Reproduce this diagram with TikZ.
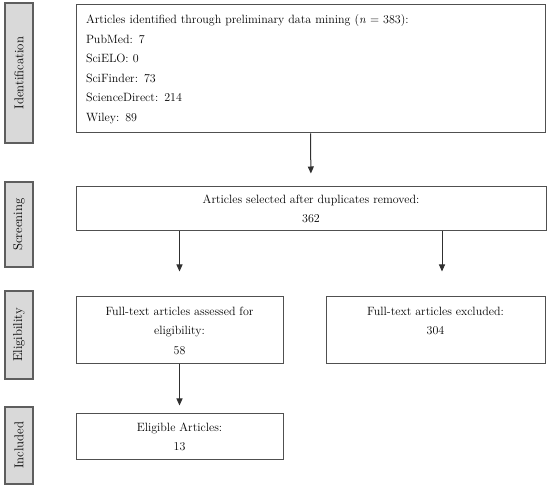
\documentclass[tikz,border=0pt]{standalone}
\usetikzlibrary{arrows.meta}
\definecolor{lblfill}{HTML}{D9D9D9}
\definecolor{lbldraw}{HTML}{5E5E5E}
\definecolor{boxdraw}{HTML}{505050}
\definecolor{arrdraw}{HTML}{303030}
\tikzset{
  txt/.style={font=\fontsize{12}{19.5}\selectfont},
  stagebox/.style={draw=lbldraw, fill=lblfill, line width=1.3pt, minimum width=28pt, inner sep=0pt, font=\fontsize{12.8}{15}\selectfont},
  flowbox/.style={draw=boxdraw, line width=1pt, inner sep=0pt, align=center, txt},
  arr/.style={draw=arrdraw, line width=1pt, -{Triangle[length=7pt,width=6pt]}}
}
\begin{document}
\begin{tikzpicture}[x=1pt,y=-1pt]
\useasboundingbox (0,0) rectangle (550,489);
% stage labels
\node[stagebox, minimum height=140pt] (l1) at (19,73) {\rotatebox{90}{Identification}};
\node[stagebox, minimum height=85pt] (l2) at (19,224.5) {\rotatebox{90}{Screening}};
\node[stagebox, minimum height=88pt] (l3) at (19,335) {\rotatebox{90}{Eligibility}};
\node[stagebox, minimum height=77pt] (l4) at (19,445.5) {\rotatebox{90}{Included}};
% flow boxes
\node[flowbox, align=left, text width=449pt, inner xsep=10pt, minimum height=128pt] (b1) at (310.5,69)
  {Articles identified through preliminary data mining (\textit{n} = 383):\\
   PubMed: 7\\ SciELO: 0\\ SciFinder: 73\\ ScienceDirect: 214\\ Wiley: 89};
\node[flowbox, minimum width=470pt, minimum height=44pt] (b2) at (311,209)
  {Articles selected after duplicates removed:\\362};
\node[flowbox, minimum width=207pt, minimum height=67pt] (b3) at (179.5,330.5)
  {Full-text articles assessed for\\eligibility:\\58};
\node[flowbox, minimum width=219pt, minimum height=67pt] (b4) at (435.5,330.5)
  {Full-text articles excluded:\\304\\\mbox{}};
\node[flowbox, minimum width=207pt, minimum height=46pt] (b5) at (179.5,437)
  {Eligible Articles:\\13};
% connectors
\coordinate (c4) at (442,0);
\draw[arr, shorten >=13pt] (b1.south) -- (b2.north);
\draw[arr, shorten >=25pt] (b2.south -| b3.north) -- (b3.north);
\draw[arr, shorten >=25pt] (b2.south -| c4) -- (b4.north -| c4);
\draw[arr, shorten >=8pt] (b3.south) -- (b5.north);
\end{tikzpicture}
\end{document}
